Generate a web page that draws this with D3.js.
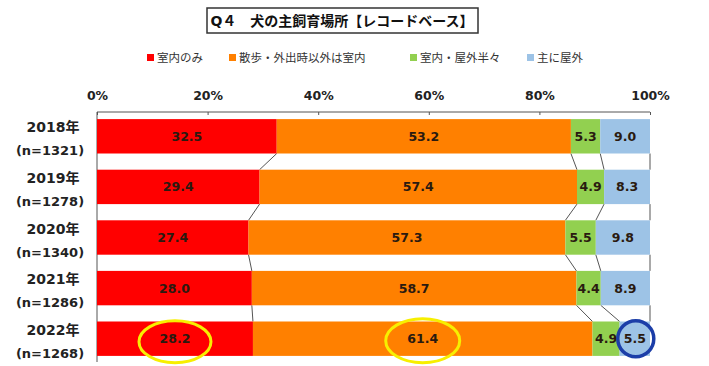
<!DOCTYPE html>
<html>
<head>
<meta charset="utf-8">
<script src="https://cdn.jsdelivr.net/npm/d3@7"></script>
<style>
  body { margin: 0; background: #fff; }
  svg text { font-family: "DejaVu Sans", "Noto Sans CJK JP", sans-serif; }
</style>
</head>
<body>
<div id="chart"></div>
<script>
// data
var years = ["2018年", "2019年", "2020年", "2021年", "2022年"];
var counts = ["(n=1321)", "(n=1278)", "(n=1340)", "(n=1286)", "(n=1268)"];
var seriesNames = ["室内のみ", "散歩・外出時以外は室内", "室内・屋外半々", "主に屋外"];
var indoorOnly = [32.5, 29.4, 27.4, 28.0, 28.2];
var indoorExceptWalk = [53.2, 57.4, 57.3, 58.7, 61.4];
var half = [5.3, 4.9, 5.5, 4.4, 4.9];
var outdoor = [9.0, 8.3, 9.8, 8.9, 5.5];
var tickValues = [0, 20, 40, 60, 80, 100];
var colors = ["#ff0000", "#ff8000", "#92d050", "#9dc3e6"];

var width = 709, height = 366;

var svg = d3.select("#chart")
  .append("svg")
  .attr("width", width)
  .attr("height", height);

var x = d3.scaleLinear().domain([0, 100]).range([97, 650]);
var y = d3.scaleBand().domain(years).range([111, 364]).paddingInner(0.32).paddingOuter(0.16);

//build stacked rows
var rows = years.map(function (yr, i) {
  var vals = [indoorOnly[i], indoorExceptWalk[i], half[i], outdoor[i]];
  var acc = 0;
  return vals.map(function (v, k) {
    var seg = { year: yr, k: k, v: v, x0: acc, x1: acc + v };
    acc += v;
    return seg;
  });
});

//title box
svg.append("rect")
  .attr("x", 207).attr("y", 8)
  .attr("width", 271).attr("height", 25)
  .attr("fill", "#fff").attr("stroke", "#333").attr("stroke-width", 1.5);
svg.append("text")
  .attr("x", 342).attr("y", 26)
  .attr("text-anchor", "middle")
  .attr("font-size", 14).attr("font-weight", "bold")
  .attr("fill", "#111")
  .text("Q４　犬の主飼育場所【レコードベース】");

//legend
var legendX = [147, 229, 410, 527];
var legend = svg.selectAll(".legend")
  .data(seriesNames)
  .enter().append("g")
  .attr("transform", function (d, i) { return "translate(" + legendX[i] + ",58)"; });
legend.append("rect")
  .attr("x", 0).attr("y", -4).attr("width", 7).attr("height", 7)
  .attr("fill", function (d, i) { return colors[i]; });
legend.append("text")
  .attr("x", 10).attr("y", 4)
  .attr("font-size", 11.5).attr("fill", "#333")
  .text(function (d) { return d; });

//axis
var axis = svg.append("g")
  .attr("transform", "translate(0,112)")
  .call(d3.axisTop(x).tickValues(tickValues).tickSize(-3).tickFormat(function (d) { return d + "%"; }));
axis.select(".domain").attr("stroke", "#555").attr("d", "M97,0H650");
axis.selectAll(".tick line").attr("stroke", "#555");
axis.selectAll(".tick text")
  .attr("y", -12)
  .attr("font-size", 12.5).attr("font-weight", "bold").attr("fill", "#222");
axis.selectAll(".tick text").attr("font-family", "DejaVu Sans");

//left axis line
svg.append("line")
  .attr("x1", x(0)).attr("x2", x(0))
  .attr("y1", 112).attr("y2", 362)
  .attr("stroke", "#555");

//series lines between bars
var links = [];
for (var i = 0; i < rows.length - 1; i++) {
  rows[i].forEach(function (seg, k) {
    links.push({ a: seg.x1, b: rows[i + 1][k].x1, y0: y(years[i]) + y.bandwidth(), y1: y(years[i + 1]) });
  });
}
svg.selectAll(".link")
  .data(links)
  .enter().append("line")
  .attr("x1", function (d) { return x(d.a); })
  .attr("x2", function (d) { return x(d.b); })
  .attr("y1", function (d) { return d.y0; })
  .attr("y2", function (d) { return d.y1; })
  .attr("stroke", "#555").attr("stroke-width", 1);

//bars
var rowG = svg.selectAll(".row")
  .data(rows)
  .enter().append("g");
rowG.selectAll("rect")
  .data(function (d) { return d; })
  .enter().append("rect")
  .attr("x", function (d) { return x(d.x0); })
  .attr("y", function (d) { return y(d.year); })
  .attr("width", function (d) { return x(d.x1) - x(d.x0); })
  .attr("height", y.bandwidth())
  .attr("fill", function (d) { return colors[d.k]; });
rowG.selectAll("text")
  .data(function (d) { return d; })
  .enter().append("text")
  .attr("x", function (d) { return (x(d.x0) + x(d.x1)) / 2; })
  .attr("y", function (d) { return y(d.year) + y.bandwidth() / 2 + 4.5; })
  .attr("text-anchor", "middle")
  .attr("font-size", 12.5).attr("font-weight", "bold")
  .attr("fill", "#2a1a10")
  .text(function (d) { return d.v.toFixed(1); });

//category labels
years.forEach(function (yr, i) {
  var cy = y(yr) + y.bandwidth() / 2;
  svg.append("text")
    .attr("x", 53).attr("y", cy - 4)
    .attr("text-anchor", "middle")
    .attr("font-size", 14).attr("font-weight", "bold").attr("fill", "#222")
    .text(yr);
  svg.append("text")
    .attr("x", 50).attr("y", cy + 19)
    .attr("text-anchor", "middle")
    .attr("font-size", 13).attr("font-weight", "bold").attr("fill", "#222")
    .text(counts[i]);
});

//highlight marks on the last year
var last = rows[rows.length - 1];
var ly = y(years[4]) + y.bandwidth() / 2;
svg.append("ellipse")
  .attr("cx", (x(last[0].x0) + x(last[0].x1)) / 2).attr("cy", ly + 3)
  .attr("rx", 36).attr("ry", 21)
  .attr("fill", "none").attr("stroke", "#f7ef00").attr("stroke-width", 3);
svg.append("ellipse")
  .attr("cx", (x(last[1].x0) + x(last[1].x1)) / 2).attr("cy", ly + 2)
  .attr("rx", 37).attr("ry", 22)
  .attr("fill", "none").attr("stroke", "#f7ef00").attr("stroke-width", 3);
svg.append("circle")
  .attr("cx", (x(last[3].x0) + x(last[3].x1)) / 2 + 1).attr("cy", ly)
  .attr("r", 18)
  .attr("fill", "none").attr("stroke", "#1c3ea8").attr("stroke-width", 3.5);
</script>
</body>
</html>
